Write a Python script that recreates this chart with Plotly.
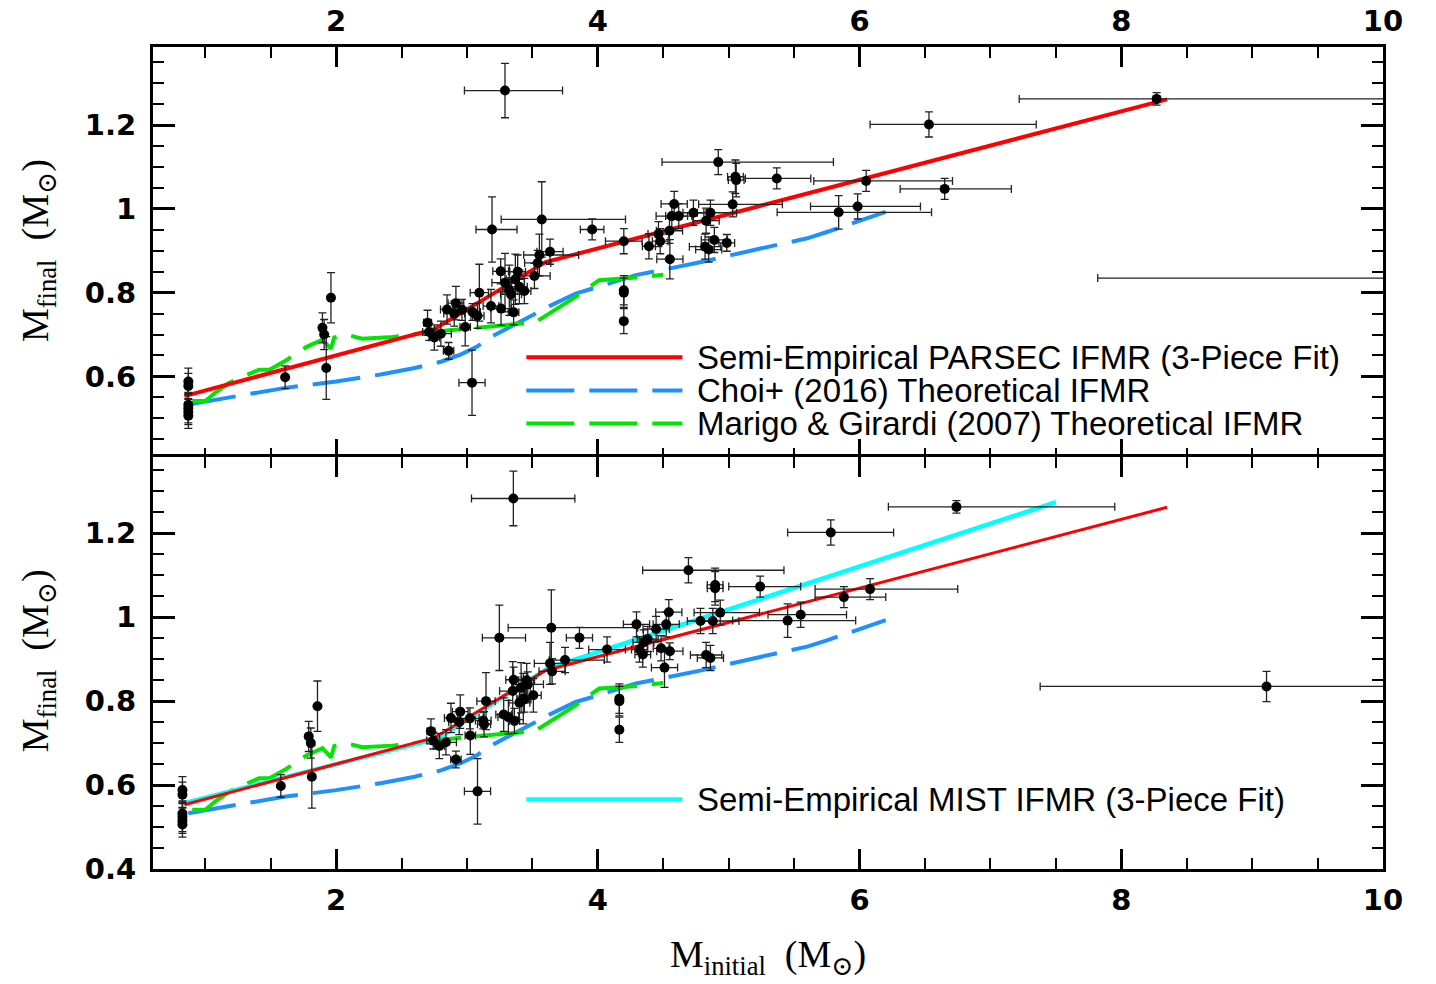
import plotly.graph_objects as go

# ---- white dwarf sample: final mass (shared) and initial mass from two isochrone sets ----
m_final = [0.588, 0.577, 0.532, 0.524, 0.515, 0.506, 0.598, 0.716, 0.700, 0.620, 0.788,
           0.728, 0.706, 0.693, 0.702, 0.661, 0.760, 0.775, 0.750, 0.759, 0.718, 0.754,
           0.745, 0.800, 0.768, 0.951, 0.762, 0.851, 0.824, 0.806, 0.796, 0.753, 0.832,
           0.850, 0.814, 0.804, 0.840, 0.871, 0.890, 0.975, 0.898, 0.951, 0.923, 0.806,
           0.800, 0.732, 0.911, 0.940, 0.923, 0.948, 0.880, 0.983, 1.012, 0.983, 0.991,
           0.972, 0.991, 0.910, 0.903, 0.926, 0.919, 1.112, 1.077, 1.069, 1.011, 1.073,
           1.067, 0.992, 1.006, 1.048, 1.202, 1.263, 0.835, 1.283, 0.585]
m_final_err = [0.032, 0.030, 0.030, 0.035, 0.030, 0.030, 0.027, 0.036, 0.036, 0.075, 0.060,
               0.030, 0.020, 0.030, 0.030, 0.020, 0.035, 0.040, 0.030, 0.025, 0.045, 0.020,
               0.030, 0.068, 0.040, 0.078, 0.040, 0.030, 0.070, 0.060, 0.040, 0.030, 0.060,
               0.040, 0.040, 0.030, 0.030, 0.030, 0.050, 0.090, 0.030, 0.025, 0.030, 0.035,
               0.035, 0.030, 0.030, 0.030, 0.030, 0.030, 0.047, 0.030, 0.030, 0.030, 0.030,
               0.030, 0.030, 0.030, 0.030, 0.030, 0.020, 0.030, 0.040, 0.040, 0.030, 0.025,
               0.025, 0.040, 0.030, 0.025, 0.030, 0.015, 0.036, 0.065, 0.078]

mi_parsec = [0.87, 0.87, 0.87, 0.87, 0.87, 0.87, 1.61, 1.895, 1.908, 1.924, 1.96,
             2.698, 2.711, 2.750, 2.80, 2.859, 2.847, 2.915, 2.902, 2.961, 2.986, 3.042,
             3.080, 3.094, 3.183, 3.191, 3.26, 3.257, 3.29, 3.323, 3.336, 3.356, 3.369,
             3.387, 3.40, 3.438, 3.515, 3.54, 3.553, 3.571, 3.634, 3.956, 4.198, 4.198,
             4.198, 4.198, 4.39, 4.463, 4.476, 4.547, 4.55, 4.565, 4.583, 4.618, 4.73,
             4.827, 4.86, 4.819, 4.847, 4.89, 4.985, 4.92, 5.051, 5.057, 5.03, 5.367,
             6.05, 5.84, 5.985, 6.65, 6.53, 8.27, 10.6, 3.29, 3.038]
mi_parsec_lo = [0, 0, 0, 0, 0, 0, 0, 0, 0, 0, 0,
                0.03, 0.05, 0.04, 0.08, 0.04, 0.05, 0.06, 0.08, 0.07, 0.04, 0.06,
                0.05, 0.07, 0.06, 0.123, 0.08, 0.06, 0.10, 0.05, 0.08, 0.04, 0.07,
                0.06, 0.06, 0.05, 0.12, 0.10, 0.12, 0.31, 0.10, 0.09, 0.14, 0,
                0, 0, 0.05, 0.08, 0.06, 0.10, 0.10, 0.12, 0.10, 0.10, 0.08,
                0.10, 0.10, 0.12, 0.10, 0.10, 0.06, 0.43, 0.06, 0.06, 0.26, 0.24,
                0.40, 0.47, 0.36, 0.34, 0.45, 1.05, 2.78, 0.31, 0.10]
mi_parsec_hi = [0, 0, 0, 0, 0, 0, 0, 0, 0, 0, 0,
                0.03, 0.05, 0.04, 0.08, 0.04, 0.05, 0.06, 0.08, 0.07, 0.04, 0.06,
                0.05, 0.07, 0.06, 0.191, 0.08, 0.06, 0.10, 0.05, 0.08, 0.04, 0.07,
                0.06, 0.06, 0.05, 0.12, 0.10, 0.30, 0.64, 0.10, 0.09, 0.14, 0,
                0, 0, 0.05, 0.08, 0.06, 0.10, 0.10, 0.12, 0.10, 0.10, 0.08,
                0.10, 0.20, 0.12, 0.10, 0.10, 0.06, 0.88, 0.06, 0.06, 0.38, 0.26,
                0.66, 0.71, 0.48, 0.51, 0.82, 2.00, 1.00, 0.44, 0.10]

mi_mist = [0.825, 0.825, 0.825, 0.825, 0.825, 0.825, 1.577, 1.79, 1.806, 1.814, 1.857,
           2.724, 2.742, 2.788, 2.839, 2.915, 2.877, 2.948, 2.94, 3.022, 3.025, 3.124,
           3.13, 3.145, 3.28, 3.247, 3.316, 3.356, 3.349, 3.43, 3.40, 3.362, 3.413,
           3.456, 3.507, 3.438, 3.464, 3.65, 3.634, 3.644, 3.749, 3.859, 4.07, 4.164,
           4.164, 4.164, 4.343, 4.348, 4.317, 4.381, 4.509, 4.295, 4.542, 4.522, 4.784,
           4.445, 4.878, 4.827, 4.86, 4.483, 4.55, 4.692, 4.896, 4.896, 4.935, 5.24,
           6.08, 5.45, 5.55, 5.88, 5.78, 6.74, 9.11, 3.354, 3.08]
mi_mist_lo = [0, 0, 0, 0, 0, 0, 0, 0, 0, 0, 0,
              0.03, 0.05, 0.04, 0.08, 0.04, 0.05, 0.06, 0.08, 0.07, 0.04, 0.06,
              0.05, 0.07, 0.06, 0.13, 0.08, 0.06, 0.10, 0.05, 0.08, 0.04, 0.07,
              0.06, 0.06, 0.05, 0.12, 0.10, 0.12, 0.33, 0.12, 0.10, 0.14, 0,
              0, 0, 0.06, 0.08, 0.06, 0.08, 0.10, 0.10, 0.10, 0.10, 0.10,
              0.10, 0.10, 0.12, 0.10, 0.06, 0.10, 0.35, 0.06, 0.06, 0.20, 0.24,
              0.42, 0.42, 0.25, 0.22, 0.33, 0.52, 1.73, 0.32, 0.10]
mi_mist_hi = [0, 0, 0, 0, 0, 0, 0, 0, 0, 0, 0,
              0.03, 0.05, 0.04, 0.08, 0.04, 0.05, 0.06, 0.08, 0.07, 0.04, 0.06,
              0.05, 0.07, 0.06, 0.20, 0.08, 0.06, 0.10, 0.05, 0.08, 0.04, 0.07,
              0.06, 0.06, 0.05, 0.12, 0.10, 0.12, 0.66, 0.30, 0.10, 0.14, 0,
              0, 0, 0.06, 0.08, 0.06, 0.08, 0.10, 0.10, 0.10, 0.10, 0.10,
              0.10, 0.20, 0.12, 0.10, 0.06, 0.10, 0.73, 0.06, 0.06, 0.30, 0.31,
              0.67, 0.52, 0.35, 0.32, 0.48, 1.21, 1.50, 0.47, 0.10]

# ---- relations ----
parsec_fit_mi = [0.84, 2.75, 3.60, 8.35]
parsec_fit_mf = [0.553, 0.713, 0.873, 1.262]

mist_fit_mi = [0.84, 2.78, 3.62, 7.50]
mist_fit_mf = [0.557, 0.712, 0.878, 1.274]

choi_mi = [0.87, 1.0, 1.3, 1.6, 2.0, 2.35, 2.6, 2.8, 2.95, 3.07, 3.2, 3.4, 3.5, 3.63,
           3.83, 3.96, 4.29, 4.5, 4.8, 5.25, 5.6, 5.75, 6.2]
choi_mf = [0.533, 0.54, 0.558, 0.572, 0.588, 0.605, 0.62, 0.635, 0.652, 0.670, 0.697,
           0.728, 0.746, 0.768, 0.798, 0.81, 0.842, 0.855, 0.874, 0.906, 0.93, 0.945, 0.993]

marigo_mi = [0.90, 1.0, 1.08, 1.18, 1.335, 1.41, 1.49, 1.615, 1.77, 1.895, 1.96, 1.985,
             2.074, 2.2, 2.43, 2.68, 2.86, 3.375, 3.515, 3.83, 3.935, 4.01, 4.29, 4.5]
marigo_mf = [0.541, 0.541, 0.562, 0.584, 0.606, 0.616, 0.616, 0.638, 0.67, 0.688, 0.666,
             0.693, 0.70, 0.69, 0.694, 0.704, 0.71, 0.725, 0.728, 0.79, 0.814, 0.83, 0.836, 0.843]

legend_top = ["Semi-Empirical PARSEC IFMR (3-Piece Fit)",
              "Choi+ (2016) Theoretical IFMR",
              "Marigo & Girardi (2007) Theoretical IFMR"]
legend_bottom = ["Semi-Empirical MIST IFMR (3-Piece Fit)"]

RED = "#ff0000"
BLUE = "#1e90ff"
GREEN = "#00e600"
CYAN = "#00ffff"
DASH = "48px,15px"

fig = go.Figure()


def add_theory(xa, ya):
    fig.add_trace(go.Scatter(x=choi_mi, y=choi_mf, mode="lines", xaxis=xa, yaxis=ya,
                             line=dict(color=BLUE, width=4, dash=DASH), showlegend=False))
    fig.add_trace(go.Scatter(x=marigo_mi, y=marigo_mf, mode="lines", xaxis=xa, yaxis=ya,
                             line=dict(color=GREEN, width=4, dash=DASH), showlegend=False))


def add_points(xa, ya, mi, lo, hi):
    fig.add_trace(go.Scatter(
        x=mi, y=m_final, mode="markers", xaxis=xa, yaxis=ya, showlegend=False,
        marker=dict(color="black", size=10),
        error_x=dict(type="data", symmetric=False, array=hi, arrayminus=lo,
                     color="#222222", thickness=1.3, width=4),
        error_y=dict(type="data", array=m_final_err, color="#222222", thickness=1.3, width=4),
    ))


# top panel: PARSEC
add_theory("x", "y")
fig.add_trace(go.Scatter(x=parsec_fit_mi, y=parsec_fit_mf, mode="lines", xaxis="x", yaxis="y",
                         line=dict(color=RED, width=4), showlegend=False))
add_points("x", "y", mi_parsec, mi_parsec_lo, mi_parsec_hi)

# bottom panel: MIST
add_theory("x2", "y2")
fig.add_trace(go.Scatter(x=mist_fit_mi, y=mist_fit_mf, mode="lines", xaxis="x2", yaxis="y2",
                         line=dict(color=CYAN, width=4.5), showlegend=False))
fig.add_trace(go.Scatter(x=parsec_fit_mi, y=parsec_fit_mf, mode="lines", xaxis="x2", yaxis="y2",
                         line=dict(color=RED, width=3), showlegend=False))
add_points("x2", "y2", mi_mist, mi_mist_lo, mi_mist_hi)

tickfont = dict(family="DejaVu Sans", size=29, color="black", weight="bold")
common_x = dict(range=[0.6, 10], tickmode="linear", tick0=0, dtick=2, automargin=False,
                ticks="inside", ticklen=20, tickwidth=3, tickcolor="black",
                minor=dict(ticks="inside", dtick=0.5, ticklen=11, tickwidth=2.2, tickcolor="black"),
                showline=True, linewidth=3, linecolor="black", mirror="allticks",
                showgrid=False, zeroline=False, tickfont=tickfont)
common_y = dict(tickmode="linear", tick0=0.4, dtick=0.2, automargin=False,
                ticks="inside", ticklen=22, tickwidth=3, tickcolor="black",
                minor=dict(ticks="inside", dtick=0.05, ticklen=11, tickwidth=2.2, tickcolor="black"),
                showline=True, linewidth=3, linecolor="black", mirror="allticks",
                showgrid=False, zeroline=False, tickfont=tickfont, ticklabelstandoff=8)

# panels overlap by the frame width so the shared border is a single line
seam = 0.0018
fig.update_layout(
    width=1436, height=984,
    margin=dict(l=153, r=53, t=47, b=115, autoexpand=False),
    paper_bgcolor="white", plot_bgcolor="white",
    showlegend=False,
    xaxis=dict(common_x, domain=[0, 1], anchor="y", side="top", ticklabelstandoff=1),
    yaxis=dict(common_y, domain=[0.5 - seam, 1], anchor="x", range=[0.4015, 1.387]),
    xaxis2=dict(common_x, domain=[0, 1], anchor="y2", side="bottom", matches="x",
                ticklabelstandoff=3),
    yaxis2=dict(common_y, domain=[0, 0.5 + seam], anchor="x2", range=[0.4, 1.383]),
)

# legend samples and labels, drawn inside each panel
legend_rows = [0.6455, 0.5665, 0.4874]
legend_styles = [dict(color=RED, width=4), dict(color=BLUE, width=4, dash=DASH),
                 dict(color=GREEN, width=4, dash=DASH)]
label_font = dict(family="Liberation Sans", size=33, color="black")
for yv, style, label in zip(legend_rows, legend_styles, legend_top):
    fig.add_shape(type="line", xref="x", yref="y", x0=3.453, x1=4.646, y0=yv, y1=yv, line=style)
    fig.add_annotation(xref="x", yref="y", x=4.75, y=yv, text=label, showarrow=False,
                       xanchor="left", yanchor="middle", font=label_font, borderpad=0)
fig.add_shape(type="line", xref="x2", yref="y2", x0=3.453, x1=4.646, y0=0.5665, y1=0.5665,
              line=dict(color=CYAN, width=4))
fig.add_annotation(xref="x2", yref="y2", x=4.75, y=0.5665, text=legend_bottom[0], showarrow=False,
                   xanchor="left", yanchor="middle", font=label_font, borderpad=0)

# axis titles
title_font = dict(family="Liberation Serif, DejaVu Serif", size=38, color="black")
ytitle = "M<sub>final</sub>  (M<sub>⊙</sub>)"
for yc in (0.753, 0.254):
    fig.add_annotation(xref="paper", yref="paper", x=-0.0935, y=yc, text=ytitle, textangle=-90,
                       showarrow=False, xanchor="center", yanchor="middle", font=title_font)
fig.add_annotation(xref="paper", yref="paper", x=0.5, y=-0.107,
                   text="M<sub>initial</sub>  (M<sub>⊙</sub>)", showarrow=False,
                   xanchor="center", yanchor="middle", font=title_font)

fig.write_html("out.html")
